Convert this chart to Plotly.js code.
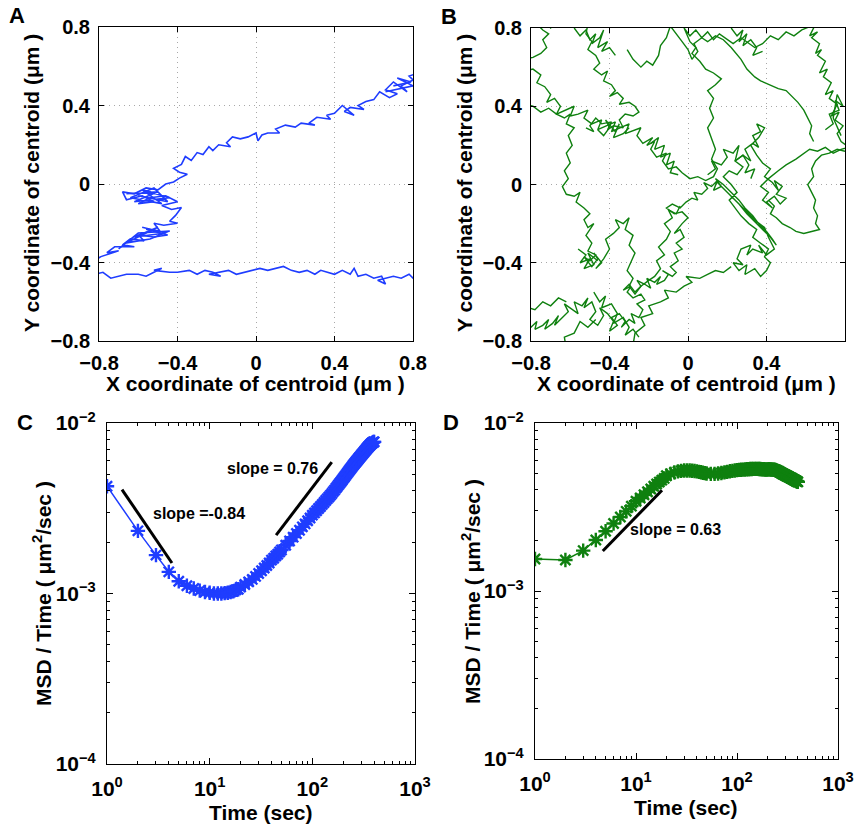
<!DOCTYPE html>
<html>
<head>
<meta charset="utf-8">
<script src="https://cdn.plot.ly/plotly-3.0.1.min.js"></script>
<style>html,body{margin:0;padding:0;background:#fff;}#chart{width:856px;height:826px;}</style>
</head>
<body>
<div id="chart"></div>
<script>
// ---------- Panel A : trajectory (blue); null separates pieces ----------
const trajA_x = [0.81,0.78,0.80,0.74,0.77,0.70,0.66,0.72,0.68,0.63,0.60,0.56,0.52,0.55,0.48,0.45,0.50,0.44,0.40,0.36,0.38,0.31,0.27,0.30,0.23,0.20,0.15,0.10,0.12,0.06,0.03,0.01,0.00,-0.04,-0.08,-0.12,-0.15,-0.13,-0.19,-0.22,-0.24,-0.27,-0.30,-0.33,-0.36,-0.38,-0.42,-0.39,-0.35,-0.39,-0.42,-0.46,-0.50,-0.56,-0.62,-0.68,-0.66,-0.58,-0.52,-0.60,-0.54,-0.46,-0.40,-0.48,-0.43,-0.38,-0.41,-0.44,-0.40,-0.47,-0.52,-0.49,-0.56,-0.45,-0.52,-0.60,-0.57,-0.64,-0.68,-0.62,-0.72,-0.76,-0.70,-0.79,-0.84,-0.88,-0.82,
 -0.78,-0.74,-0.70,-0.66,-0.60,-0.56,-0.52,-0.48,-0.52,-0.44,-0.40,-0.34,-0.30,-0.26,-0.22,-0.18,-0.24,-0.14,-0.10,-0.06,-0.02,0.02,0.06,0.10,0.14,0.18,0.22,0.26,0.30,0.33,0.36,0.40,0.44,0.48,0.50,0.52,0.56,0.60,0.64,0.66,0.62,0.70,0.74,0.78,0.80,0.84,
 null,-0.66,-0.50,-0.62,-0.44,-0.58,-0.48,-0.64,-0.52,-0.45,-0.60,
 null,-0.58,-0.46,-0.62,-0.50,-0.66,-0.54,-0.44,-0.60,-0.70,
 null,0.70,0.79,0.72,0.80,0.66];
const trajA_y = [0.56,0.55,0.53,0.50,0.47,0.52,0.48,0.46,0.44,0.47,0.43,0.42,0.40,0.38,0.39,0.37,0.35,0.40,0.36,0.35,0.33,0.34,0.31,0.30,0.31,0.29,0.30,0.28,0.26,0.26,0.25,0.22,0.26,0.24,0.23,0.24,0.21,0.19,0.20,0.17,0.19,0.15,0.16,0.12,0.14,0.10,0.08,0.06,0.05,0.03,0.01,0.00,-0.03,-0.02,-0.05,-0.04,-0.08,-0.06,-0.09,-0.10,-0.07,-0.06,-0.09,-0.11,-0.13,-0.12,-0.16,-0.19,-0.20,-0.21,-0.20,-0.24,-0.23,-0.26,-0.27,-0.26,-0.29,-0.28,-0.31,-0.32,-0.32,-0.35,-0.34,-0.37,-0.40,-0.44,-0.46,
 -0.45,-0.48,-0.47,-0.46,-0.46,-0.47,-0.45,-0.43,-0.44,-0.45,-0.45,-0.44,-0.46,-0.44,-0.45,-0.47,-0.46,-0.44,-0.46,-0.45,-0.44,-0.43,-0.44,-0.43,-0.42,-0.44,-0.45,-0.44,-0.46,-0.44,-0.45,-0.46,-0.44,-0.46,-0.43,-0.47,-0.46,-0.48,-0.47,-0.51,-0.49,-0.47,-0.48,-0.46,-0.48,-0.47,
 null,-0.05,-0.04,-0.09,-0.07,-0.03,-0.10,-0.07,-0.02,-0.09,-0.06,
 null,-0.22,-0.25,-0.27,-0.22,-0.30,-0.28,-0.24,-0.25,-0.33,
 null,0.50,0.52,0.54,0.50,0.47];

// ---------- Panel B : trajectory (green); null separates pieces ----------
const trajB_x = [
 -0.84,-0.80,-0.77,-0.78,-0.74,-0.71,-0.73,-0.69,-0.66,-0.68,-0.64,-0.61,-0.63,-0.59,-0.56,-0.58,-0.54,-0.51,-0.53,-0.49,-0.47,-0.50,-0.46,-0.43,-0.45,-0.41,-0.38,-0.40,-0.36,-0.39,-0.35,-0.32,-0.34,-0.30,-0.27,-0.29,-0.25,-0.23,-0.26,-0.22,-0.24,-0.28,-0.31,-0.29,-0.33,-0.30,-0.27,-0.24,-0.26,-0.22,-0.19,-0.21,-0.17,-0.14,-0.16,-0.12,-0.10,-0.13,-0.08,-0.06,
 -0.09,-0.05,-0.07,-0.03,-0.06,-0.02,-0.04,-0.07,-0.03,0.00,-0.03,-0.07,-0.11,-0.08,-0.04,-0.01,0.02,0.05,0.03,0.07,0.10,0.08,0.12,0.15,0.13,0.17,0.14,0.18,
 0.22,0.26,0.29,0.33,0.36,0.40,0.43,0.45,0.42,0.38,0.34,0.30,0.26,0.22,0.18,0.15,0.19,0.23,0.27,0.31,0.35,0.39,0.41,0.44,0.40,
 0.36,0.38,0.33,0.30,0.32,0.27,0.25,0.28,0.23,0.26,0.30,0.29,0.34,0.37,0.40,0.42,0.39,0.41,0.37,0.33,0.35,0.31,
 0.27,0.24,0.21,0.25,0.22,0.18,0.21,0.25,0.28,0.24,0.28,0.32,0.29,0.33,0.36,0.33,0.37,0.35,0.39,0.36,0.32,0.35,0.38,0.42,0.39,0.43,0.46,0.44,0.48,0.45,0.50,0.47,0.44,0.40,0.43,0.38,0.41,0.37,
 0.41,0.46,0.50,0.55,0.59,0.62,0.66,0.70,0.74,0.78,0.82,0.78,0.76,0.79,0.75,0.77,0.73,0.76,0.72,0.74,0.70,0.73,0.69,0.71,0.67,0.70,0.66,0.68,0.65,0.67,0.63,0.66,0.62,0.65,
 0.58,0.54,0.50,0.46,0.42,0.38,0.34,0.30,0.27,0.23,0.20,0.16,0.13,0.10,0.07,0.04,0.01,-0.02,0.01,0.04,0.02,
 0.06,0.09,0.13,0.17,0.14,0.10,0.13,0.11,0.13,0.10,0.12,0.14,0.12,0.15,0.13,
 0.09,0.05,0.01,-0.03,-0.06,-0.10,-0.13,-0.11,-0.16,-0.19,-0.17,-0.21,-0.18,-0.23,-0.26,-0.24,-0.29,-0.32,-0.30,-0.35,-0.39,-0.37,-0.42,-0.46,-0.44,-0.49,-0.53,-0.51,-0.56,-0.60,-0.58,-0.63,-0.67,-0.71,-0.75,-0.79,-0.83,
 null,
 -0.84,-0.79,-0.75,-0.77,-0.73,-0.70,-0.72,-0.68,-0.65,-0.67,-0.63,-0.60,-0.62,-0.58,-0.61,-0.59,-0.62,-0.60,-0.63,-0.61,-0.64,-0.62,-0.58,-0.55,-0.57,-0.53,-0.50,-0.53,-0.51,-0.48,-0.52,-0.49,-0.51,-0.47,-0.50,-0.53,-0.49,-0.46,-0.48,-0.44,-0.47,
 -0.43,-0.40,-0.42,-0.38,-0.35,-0.37,-0.33,-0.30,-0.32,-0.28,-0.30,-0.27,-0.29,-0.31,-0.28,-0.30,-0.27,-0.24,-0.20,-0.17,-0.14,-0.16,-0.12,-0.15,-0.11,-0.09,-0.12,-0.08,-0.10,-0.06,-0.04,
 null,
 -0.51,-0.52,-0.49,-0.51,-0.47,-0.45,-0.48,-0.44,-0.41,-0.43,-0.39,-0.37,-0.40,-0.36,-0.33,-0.35,-0.30,-0.27,-0.25,-0.28,-0.32,-0.35,-0.33,-0.38,-0.41,-0.39,-0.44,-0.47,-0.50,-0.48,-0.52,
 null,
 -0.84,-0.79,-0.75,-0.72,-0.74,-0.71,-0.74,-0.77,-0.73,-0.70,-0.67,
 null,
 -0.31,-0.28,-0.24,-0.21,-0.18,-0.15,-0.14,-0.11,-0.09,-0.05,-0.03,0.00,0.02,0.05,0.03,0.07,0.10,0.14,0.18,0.22,0.27,0.30,0.34,0.37,0.42,0.46,0.50,0.54,0.56,0.59,0.61,0.63,0.62,0.64,
 null,
 0.80,0.76,0.72,0.68,0.65,0.63,0.64,0.61,0.63,0.65,0.64,0.66,0.65,0.67,0.63,0.59,0.55,0.52,0.48,0.45,0.42,0.44,0.41,
 null,
 -0.62,-0.63,-0.58,-0.55,-0.51,-0.47,
 null,
 -0.28,-0.27,-0.22,-0.24,-0.18,-0.20,-0.14,-0.10,-0.12,-0.06,-0.02,0.02,-0.01,0.06,0.10,0.14,0.18,0.22,
 null,
 -0.84,-0.78,-0.74,-0.70,-0.66,-0.62,
 null,
 -0.19,-0.15,-0.17,-0.12,-0.14,-0.09,-0.11,-0.07,-0.09,-0.05,
 null,
 -0.58,-0.55,-0.52,-0.50,-0.47,-0.49,-0.45,-0.43,-0.46,-0.41,-0.44,-0.40,-0.37,
 null,
 0.22,0.25,0.28,0.26,0.30,0.28,0.32,0.35,0.33,0.38,
 null,
 0.10,0.14,0.12,0.17,0.20,0.18,0.23,0.26,0.24,0.28,0.31,0.29,0.34,0.32,
 null,
 -0.48,-0.45,-0.42,-0.44,-0.39,-0.36,-0.38,-0.33,-0.30,-0.32,-0.28,-0.25,
 null,
 0.70,0.74,0.72,0.77,0.75,0.79,0.76,0.74,0.78,
 null,
 -0.56,-0.52,-0.55,-0.50,-0.53,-0.48,-0.51,-0.46,
 null,
 -0.46,-0.43,-0.40,-0.42,-0.37,-0.35,-0.38,-0.33,-0.30];
const trajB_y = [
 -0.76,-0.73,-0.70,-0.74,-0.72,-0.69,-0.74,-0.71,-0.67,-0.72,-0.68,-0.65,-0.61,-0.64,-0.66,-0.60,-0.62,-0.58,-0.63,-0.60,-0.65,-0.69,-0.72,-0.67,-0.63,-0.66,-0.70,-0.75,-0.72,-0.68,-0.66,-0.70,-0.73,-0.69,-0.71,-0.66,-0.68,-0.64,-0.61,-0.59,-0.56,-0.58,-0.55,-0.52,-0.54,-0.51,-0.55,-0.52,-0.49,-0.51,-0.53,-0.48,-0.50,-0.47,-0.51,-0.49,-0.46,-0.44,-0.47,-0.45,
 -0.42,-0.39,-0.35,-0.33,-0.30,-0.27,-0.23,-0.25,-0.20,-0.17,-0.14,-0.15,-0.12,-0.10,-0.12,-0.09,-0.07,-0.08,-0.04,-0.05,-0.02,0.01,-0.01,0.02,-0.03,-0.01,0.03,0.00,
 -0.04,-0.08,-0.12,-0.16,-0.20,-0.24,-0.28,-0.31,-0.27,-0.23,-0.19,-0.15,-0.10,-0.06,-0.02,0.01,-0.03,-0.07,-0.11,-0.15,-0.19,-0.22,-0.27,-0.33,-0.36,
 -0.31,-0.35,-0.33,-0.36,-0.31,-0.33,-0.38,-0.41,-0.40,-0.44,-0.41,-0.46,-0.43,-0.47,-0.44,-0.40,-0.37,-0.33,-0.30,-0.27,-0.23,-0.20,
 -0.16,-0.12,-0.08,-0.04,0.00,0.04,0.07,0.05,0.09,0.12,0.15,0.12,0.18,0.21,0.19,0.25,0.27,0.31,0.29,0.24,0.20,0.15,0.11,0.08,0.04,0.01,-0.03,0.02,-0.01,-0.05,-0.07,-0.10,-0.06,-0.09,-0.12,-0.08,-0.04,-0.01,
 0.03,0.07,0.10,0.13,0.16,0.18,0.17,0.19,0.16,0.18,0.19,0.22,0.26,0.30,0.33,0.37,0.35,0.41,0.44,0.48,0.46,0.52,0.55,0.59,0.57,0.63,0.66,0.69,0.67,0.72,0.75,0.78,0.76,0.82,
 0.79,0.76,0.78,0.74,0.76,0.72,0.70,0.73,0.75,0.72,0.74,0.77,0.74,0.78,0.75,0.79,0.76,0.80,0.73,0.70,0.67,
 0.63,0.59,0.57,0.54,0.51,0.48,0.44,0.39,0.34,0.29,0.23,0.18,0.13,0.08,0.04,
 0.02,0.04,0.03,0.06,0.09,0.08,0.12,0.16,0.14,0.18,0.22,0.20,0.24,0.21,0.25,0.29,0.27,0.26,0.31,0.29,0.27,0.32,0.30,0.28,0.33,0.31,0.34,0.38,0.36,0.35,0.40,0.38,0.36,0.39,0.37,0.40,0.41,
 null,
 0.58,0.59,0.56,0.52,0.50,0.46,0.42,0.44,0.40,0.36,0.34,0.36,0.31,0.29,0.25,0.20,0.16,0.11,0.07,0.03,-0.01,-0.05,-0.06,-0.04,-0.09,-0.12,-0.15,-0.18,-0.22,-0.20,-0.26,-0.30,-0.34,-0.36,-0.39,-0.37,-0.42,-0.38,-0.35,-0.40,-0.43,
 -0.38,-0.33,-0.28,-0.25,-0.22,-0.18,-0.20,-0.17,-0.23,-0.26,-0.31,-0.35,-0.40,-0.44,-0.48,-0.52,-0.56,-0.52,-0.49,-0.47,-0.43,-0.39,-0.36,-0.32,-0.28,-0.24,-0.20,-0.17,-0.13,-0.15,-0.11,
 null,
 0.82,0.77,0.73,0.69,0.66,0.62,0.59,0.56,0.58,0.53,0.51,0.48,0.45,0.47,0.44,0.41,0.42,0.40,0.37,0.35,0.36,0.33,0.29,0.30,0.28,0.32,0.31,0.34,0.30,0.27,0.29,
 null,
 0.64,0.65,0.67,0.70,0.74,0.77,0.79,0.82,0.84,0.80,0.83,
 null,
 0.69,0.64,0.60,0.63,0.61,0.66,0.71,0.75,0.81,0.76,0.73,0.69,0.64,0.68,0.72,0.75,0.73,0.76,0.74,0.70,0.64,0.59,0.55,0.53,0.51,0.49,0.48,0.44,0.42,0.38,0.34,0.30,0.26,0.22,
 null,
 0.17,0.18,0.16,0.15,0.12,0.08,0.04,0.00,-0.04,-0.08,-0.12,-0.16,-0.20,-0.23,-0.24,-0.25,-0.24,-0.22,-0.20,-0.17,-0.15,-0.11,-0.08,
 null,
 -0.84,-0.78,-0.76,-0.70,-0.73,-0.69,
 null,
 -0.82,-0.76,-0.72,-0.68,-0.66,-0.62,-0.60,-0.58,-0.54,-0.55,-0.52,-0.50,-0.47,-0.48,-0.46,-0.44,-0.45,-0.42,
 null,
 -0.62,-0.64,-0.60,-0.62,-0.58,-0.60,
 null,
 0.21,0.24,0.18,0.20,0.14,0.16,0.10,0.12,0.06,0.05,
 null,
 0.80,0.76,0.79,0.74,0.77,0.72,0.75,0.79,0.70,0.73,0.68,0.70,0.66,
 null,
 0.80,0.76,0.79,0.73,0.77,0.71,0.74,0.70,0.66,0.68,
 null,
 0.05,0.08,0.12,0.10,0.14,0.18,0.16,0.20,0.12,0.15,0.10,0.06,0.08,0.03,
 null,
 -0.55,-0.60,-0.57,-0.63,-0.61,-0.66,-0.71,-0.68,-0.73,-0.77,-0.74,-0.78,
 null,
 0.28,0.31,0.36,0.38,0.43,0.40,0.46,0.34,0.25,
 null,
 -0.33,-0.36,-0.40,-0.38,-0.43,-0.41,-0.35,-0.39,
 null,
 0.28,0.25,0.29,0.33,0.27,0.31,0.24,0.26,0.29];

// ---------- Panel C : MSD/Time (blue) ----------
const timeC = [1,2,3,4,5,6,7,8,9,10,11,12,13,14,15,16,17,18,19,20,22,24,26,28,30,32,34,36,38,40,42,44,46,48,50,55,60,65,70,75,80,85,90,95,100,105,110,115,120,125,130,135,140,145,150,155,160,165,170,175,180,185,190,195,200,205,210,215,220,225,230,235,240,245,250,255,260,265,270,275,280,285,290,295,300,305,310,315,320,325,330,335,340,345,350,355,360,365,370,375,380,385,390,395,400];
const msdC = [4.26e-3,2.33e-3,1.68e-3,1.34e-3,1.18e-3,1.11e-3,1.07e-3,1.04e-3,1.02e-3,1.01e-3,1.00e-3,1.00e-3,1.00e-3,1.005e-3,1.01e-3,1.02e-3,1.03e-3,1.05e-3,1.06e-3,1.09e-3,1.13e-3,1.17e-3,1.21e-3,1.26e-3,1.31e-3,1.36e-3,1.41e-3,1.46e-3,1.51e-3,1.57e-3,1.61e-3,1.66e-3,1.70e-3,1.75e-3,1.80e-3,1.92e-3,2.03e-3,2.14e-3,2.25e-3,2.35e-3,2.46e-3,2.56e-3,2.67e-3,2.77e-3,2.88e-3,2.97e-3,3.06e-3,3.15e-3,3.24e-3,3.33e-3,3.42e-3,3.51e-3,3.60e-3,3.68e-3,3.77e-3,3.86e-3,3.96e-3,4.05e-3,4.15e-3,4.24e-3,4.34e-3,4.43e-3,4.53e-3,4.62e-3,4.72e-3,4.81e-3,4.91e-3,5.00e-3,5.10e-3,5.19e-3,5.28e-3,5.38e-3,5.47e-3,5.56e-3,5.65e-3,5.73e-3,5.82e-3,5.90e-3,5.98e-3,6.06e-3,6.15e-3,6.23e-3,6.31e-3,6.39e-3,6.47e-3,6.55e-3,6.62e-3,6.70e-3,6.78e-3,6.86e-3,6.93e-3,7.01e-3,7.08e-3,7.16e-3,7.23e-3,7.30e-3,7.36e-3,7.43e-3,7.50e-3,7.56e-3,7.61e-3,7.66e-3,7.70e-3,7.73e-3,7.75e-3];

// ---------- Panel D : MSD/Time (green) ----------
const timeD = [1,2,3,4,5,6,7,8,9,10,11,12,13,14,15,16,17,18,19,20,22,24,26,28,30,32,34,36,38,40,42,44,46,48,50,55,60,65,70,75,80,85,90,95,100,105,110,115,120,125,130,135,140,145,150,155,160,165,170,175,180,185,190,195,200,205,210,215,220,225,230,235,240,245,250,255,260,265,270,275,280,285,290,295,300,305,310,315,320,325,330,335,340,345,350,355,360,365,370,375,380,385,390,395,400];
const msdD = [1.55e-3,1.53e-3,1.74e-3,2.01e-3,2.27e-3,2.52e-3,2.76e-3,2.98e-3,3.20e-3,3.42e-3,3.58e-3,3.74e-3,3.90e-3,4.05e-3,4.20e-3,4.33e-3,4.45e-3,4.57e-3,4.68e-3,4.85e-3,4.98e-3,5.08e-3,5.15e-3,5.19e-3,5.21e-3,5.22e-3,5.21e-3,5.20e-3,5.18e-3,5.15e-3,5.12e-3,5.09e-3,5.06e-3,5.03e-3,5.01e-3,4.98e-3,4.98e-3,5.00e-3,5.04e-3,5.08e-3,5.12e-3,5.16e-3,5.19e-3,5.22e-3,5.24e-3,5.26e-3,5.27e-3,5.28e-3,5.29e-3,5.30e-3,5.31e-3,5.32e-3,5.32e-3,5.33e-3,5.33e-3,5.33e-3,5.33e-3,5.32e-3,5.32e-3,5.31e-3,5.30e-3,5.30e-3,5.29e-3,5.29e-3,5.29e-3,5.30e-3,5.30e-3,5.29e-3,5.29e-3,5.28e-3,5.28e-3,5.27e-3,5.25e-3,5.23e-3,5.20e-3,5.17e-3,5.14e-3,5.10e-3,5.07e-3,5.03e-3,5.00e-3,4.97e-3,4.95e-3,4.92e-3,4.90e-3,4.87e-3,4.85e-3,4.82e-3,4.80e-3,4.78e-3,4.76e-3,4.73e-3,4.71e-3,4.69e-3,4.67e-3,4.64e-3,4.62e-3,4.60e-3,4.58e-3,4.56e-3,4.54e-3,4.52e-3,4.50e-3,4.48e-3,4.46e-3];

// ---------- slope guide lines ----------
const slopeC1_t = [1.40, 4.29],  slopeC1_v = [4.07e-3, 1.51e-3];
const slopeC2_t = [44.4, 154.6], slopeC2_v = [2.20e-3, 5.90e-3];
const slopeD_t  = [4.69, 18.1],  slopeD_v  = [1.73e-3, 3.98e-3];

// ---------- tick labels ----------
const linTickVals = [-0.8,-0.4,0,0.4,0.8];
const linTickText = ['<b>\u22120.8</b>','<b>\u22120.4</b>','<b>0</b>','<b>0.4</b>','<b>0.8</b>'];
const timeTickVals = [1,10,100,1000];
const timeTickText = ['<b>10<sup>0</sup></b>','<b>10<sup>1</sup></b>','<b>10<sup>2</sup></b>','<b>10<sup>3</sup></b>'];
const msdTickVals = [1e-4,1e-3,1e-2];
const msdTickText = ['<b>10<sup>\u22124</sup></b>','<b>10<sup>\u22123</sup></b>','<b>10<sup>\u22122</sup></b>'];
const timeMinor = [2,3,4,5,6,7,8,9,20,30,40,50,60,70,80,90,200,300,400,500,600,700,800,900];
const msdMinor = [2e-4,3e-4,4e-4,5e-4,6e-4,7e-4,8e-4,9e-4,2e-3,3e-3,4e-3,5e-3,6e-3,7e-3,8e-3,9e-3];

const BLUE = '#1f3dff', GREEN = '#0f800f';
const FONT = 'Liberation Sans, Arial, Helvetica, sans-serif';
const W = 856, H = 826;
const px = v => v / W, py = v => 1 - v / H;

const tickFont = {family: FONT, size: 20, color: '#000'};
const logTickFont = {family: FONT, size: 21, color: '#000'};

function linAxis(domain, anchor) {
  return {domain: domain, anchor: anchor, range: [-0.8, 0.8], tickmode: 'array',
    tickvals: linTickVals, ticktext: linTickText, ticks: 'inside', ticklen: 5, tickcolor: '#000',
    showline: true, linecolor: '#000', linewidth: 1, mirror: 'ticks', zeroline: false,
    showgrid: true, gridcolor: '#a8a8a8', griddash: '1px,4px', gridwidth: 1,
    tickfont: tickFont, ticklabelstandoff: 4, fixedrange: true};
}
function logAxis(domain, anchor, range, vals, text, minor) {
  return {domain: domain, anchor: anchor, type: 'log', range: range, tickmode: 'array',
    tickvals: vals, ticktext: text, ticks: 'inside', ticklen: 6, tickcolor: '#000',
    minor: {tickmode: 'array', tickvals: minor, ticks: 'inside', ticklen: 3, tickcolor: '#000', showgrid: false},
    showline: true, linecolor: '#000', linewidth: 1, mirror: 'ticks', zeroline: false,
    showgrid: false, tickfont: logTickFont, ticklabelstandoff: 6, fixedrange: true};
}

const traces = [
  {x: trajA_x, y: trajA_y, xaxis: 'x', yaxis: 'y', mode: 'lines', connectgaps: false, line: {color: BLUE, width: 1.6}, hoverinfo: 'skip'},
  {x: trajB_x, y: trajB_y, xaxis: 'x2', yaxis: 'y2', mode: 'lines', connectgaps: false, line: {color: GREEN, width: 1.4}, hoverinfo: 'skip'},
  {x: timeC, y: msdC, xaxis: 'x3', yaxis: 'y3', mode: 'lines+markers', line: {color: BLUE, width: 1.5},
   marker: {symbol: 'asterisk-open', size: 12, color: BLUE, line: {color: BLUE, width: 2.4}}},
  {x: slopeC1_t, y: slopeC1_v, xaxis: 'x3', yaxis: 'y3', mode: 'lines', line: {color: '#000', width: 3}},
  {x: slopeC2_t, y: slopeC2_v, xaxis: 'x3', yaxis: 'y3', mode: 'lines', line: {color: '#000', width: 3}},
  {x: timeD, y: msdD, xaxis: 'x4', yaxis: 'y4', mode: 'lines+markers', line: {color: GREEN, width: 1.5},
   marker: {symbol: 'asterisk-open', size: 12, color: GREEN, line: {color: GREEN, width: 2.4}}},
  {x: slopeD_t, y: slopeD_v, xaxis: 'x4', yaxis: 'y4', mode: 'lines', line: {color: '#000', width: 3}}
];

function ann(text, x, y, size, angle) {
  return {text: '<b>' + text + '</b>', x: px(x), y: py(y), xref: 'paper', yref: 'paper', showarrow: false,
    xanchor: 'center', yanchor: 'middle', textangle: angle || 0,
    font: {family: FONT, size: size, color: '#000'}};
}

const layout = {
  width: W, height: H, margin: {l: 0, r: 0, t: 0, b: 0},
  paper_bgcolor: '#fff', plot_bgcolor: '#fff', showlegend: false,
  xaxis:  linAxis([px(99), px(413)], 'y'),
  yaxis:  linAxis([py(341), py(27)], 'x'),
  xaxis2: linAxis([px(531), px(845)], 'y2'),
  yaxis2: linAxis([py(341), py(28)], 'x2'),
  xaxis3: logAxis([px(107), px(415)], 'y3', [0, 3], timeTickVals, timeTickText, timeMinor),
  yaxis3: logAxis([py(764), py(423)], 'x3', [-4, -2], msdTickVals, msdTickText, msdMinor),
  xaxis4: logAxis([px(535), px(838)], 'y4', [0, 3], timeTickVals, timeTickText, timeMinor),
  yaxis4: logAxis([py(759), py(423)], 'x4', [-4, -2], msdTickVals, msdTickText, msdMinor),
  annotations: [
    ann('A', 17, 16, 22), ann('B', 449, 17, 22), ann('C', 25, 422, 22), ann('D', 451, 422, 22),
    ann('X coordinate of centroid (\u03bcm )', 256, 383, 21),
    ann('Y coordinate of centroid (\u03bcm )', 32, 183, 21, -90),
    ann('X coordinate of centroid (\u03bcm )', 686, 383, 21),
    ann('Y coordinate of centroid (\u03bcm )', 465, 183, 21, -90),
    ann('Time (sec)', 261, 812, 21),
    ann('MSD / Time ( \u03bcm<sup>2</sup>/sec )', 42, 594, 21, -90),
    ann('Time (sec)', 686, 807, 21),
    ann('MSD / Time ( \u03bcm<sup>2</sup>/sec )', 471, 592, 21, -90),
    ann('slope =-0.84', 199, 513, 16),
    ann('slope = 0.76', 272, 468, 16),
    ann('slope = 0.63', 675, 529, 16)
  ]
};

Plotly.newPlot('chart', traces, layout, {staticPlot: true, displayModeBar: false});
</script>
</body>
</html>
